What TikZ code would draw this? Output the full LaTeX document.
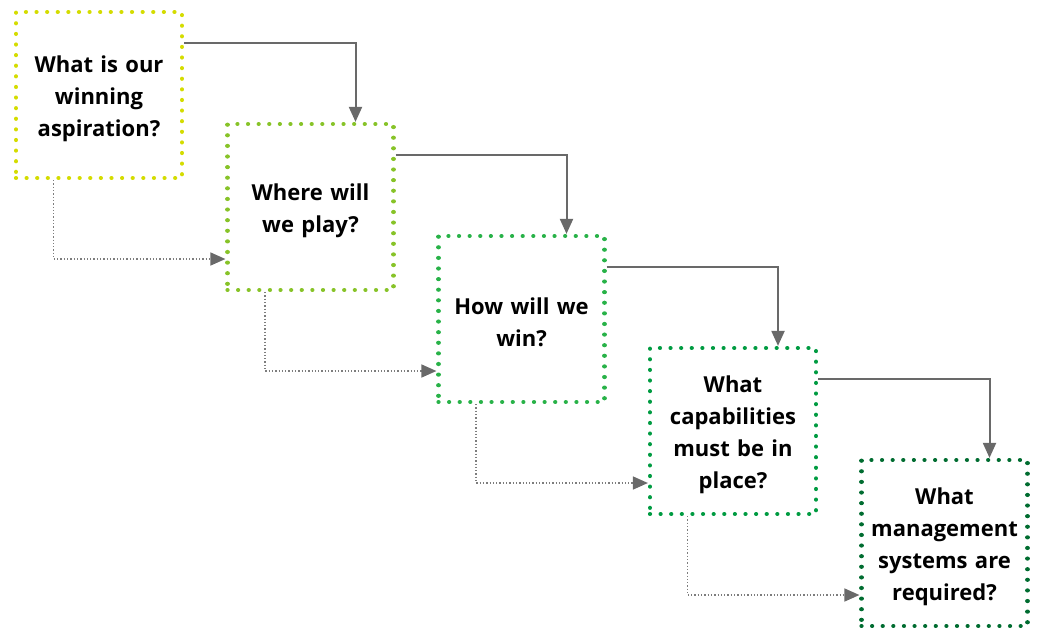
\documentclass[tikz,border=0pt]{standalone}
\usepackage{fontspec}
\setmainfont{Open Sans}
\usetikzlibrary{arrows.meta}
\definecolor{cA}{RGB}{212,220,0}
\definecolor{cB}{RGB}{135,195,40}
\definecolor{cC}{RGB}{40,178,72}
\definecolor{cD}{RGB}{0,155,65}
\definecolor{cE}{RGB}{0,108,48}
\definecolor{conn}{RGB}{105,105,105}
\definecolor{dconn}{RGB}{125,125,125}
\tikzset{
  qbox/.style={draw=#1, line width=4.2pt, line cap=round,
    dash pattern=on 0.01pt off 10.6pt, rectangle, inner sep=0pt,
    minimum width=166pt, minimum height=166pt},
  qtext/.style={inner sep=0pt, text width=160pt, align=center,
    font=\bfseries\fontsize{22}{32}\selectfont, text=black},
  solidconn/.style={draw=conn, line width=2pt, -{Triangle[length=15pt,width=13pt]}},
  dotconn/.style={draw=dconn, line width=1.5pt, dash pattern=on 1.3pt off 2pt,
    -{Triangle[length=15pt,width=13pt,fill=conn,color=conn]}}
}
\begin{document}
\begin{tikzpicture}[x=1pt,y=-1pt]
\useasboundingbox (0,0) rectangle (1040,630);
\node[qbox=cA] (b1) at (99,95) {};
\node[qbox=cB] (b2) at (310.5,207) {};
\node[qbox=cC] (b3) at (521.5,319) {};
\node[qbox=cD] (b4) at (733,431) {};
\node[qbox=cE] (b5) at (944.5,543) {};
\node[qtext] (t1) at ([yshift=-3.5pt]b1.center) {What is our\\winning\\aspiration?};
\node[qtext] (t2) at ([yshift=-3.5pt]b2.center) {Where will\\we play?};
\node[qtext] (t3) at ([yshift=-3.5pt]b3.center) {How will we\\win?};
\node[qtext] (t4) at ([yshift=-3.5pt]b4.center) {What\\capabilities\\must be in\\place?};
\node[qtext] (t5) at ([yshift=-3.5pt]b5.center) {What\\management\\systems are\\required?};
\foreach \a/\b in {b1/b2,b2/b3,b3/b4,b4/b5}{
  \draw[solidconn] ([yshift=52pt]\a.east) -| ([xshift=45pt]\b.north);
  \draw[dotconn] ([xshift=-45.5pt]\a.south) |- ([yshift=-52pt]\b.west);
}
\end{tikzpicture}
\end{document}
